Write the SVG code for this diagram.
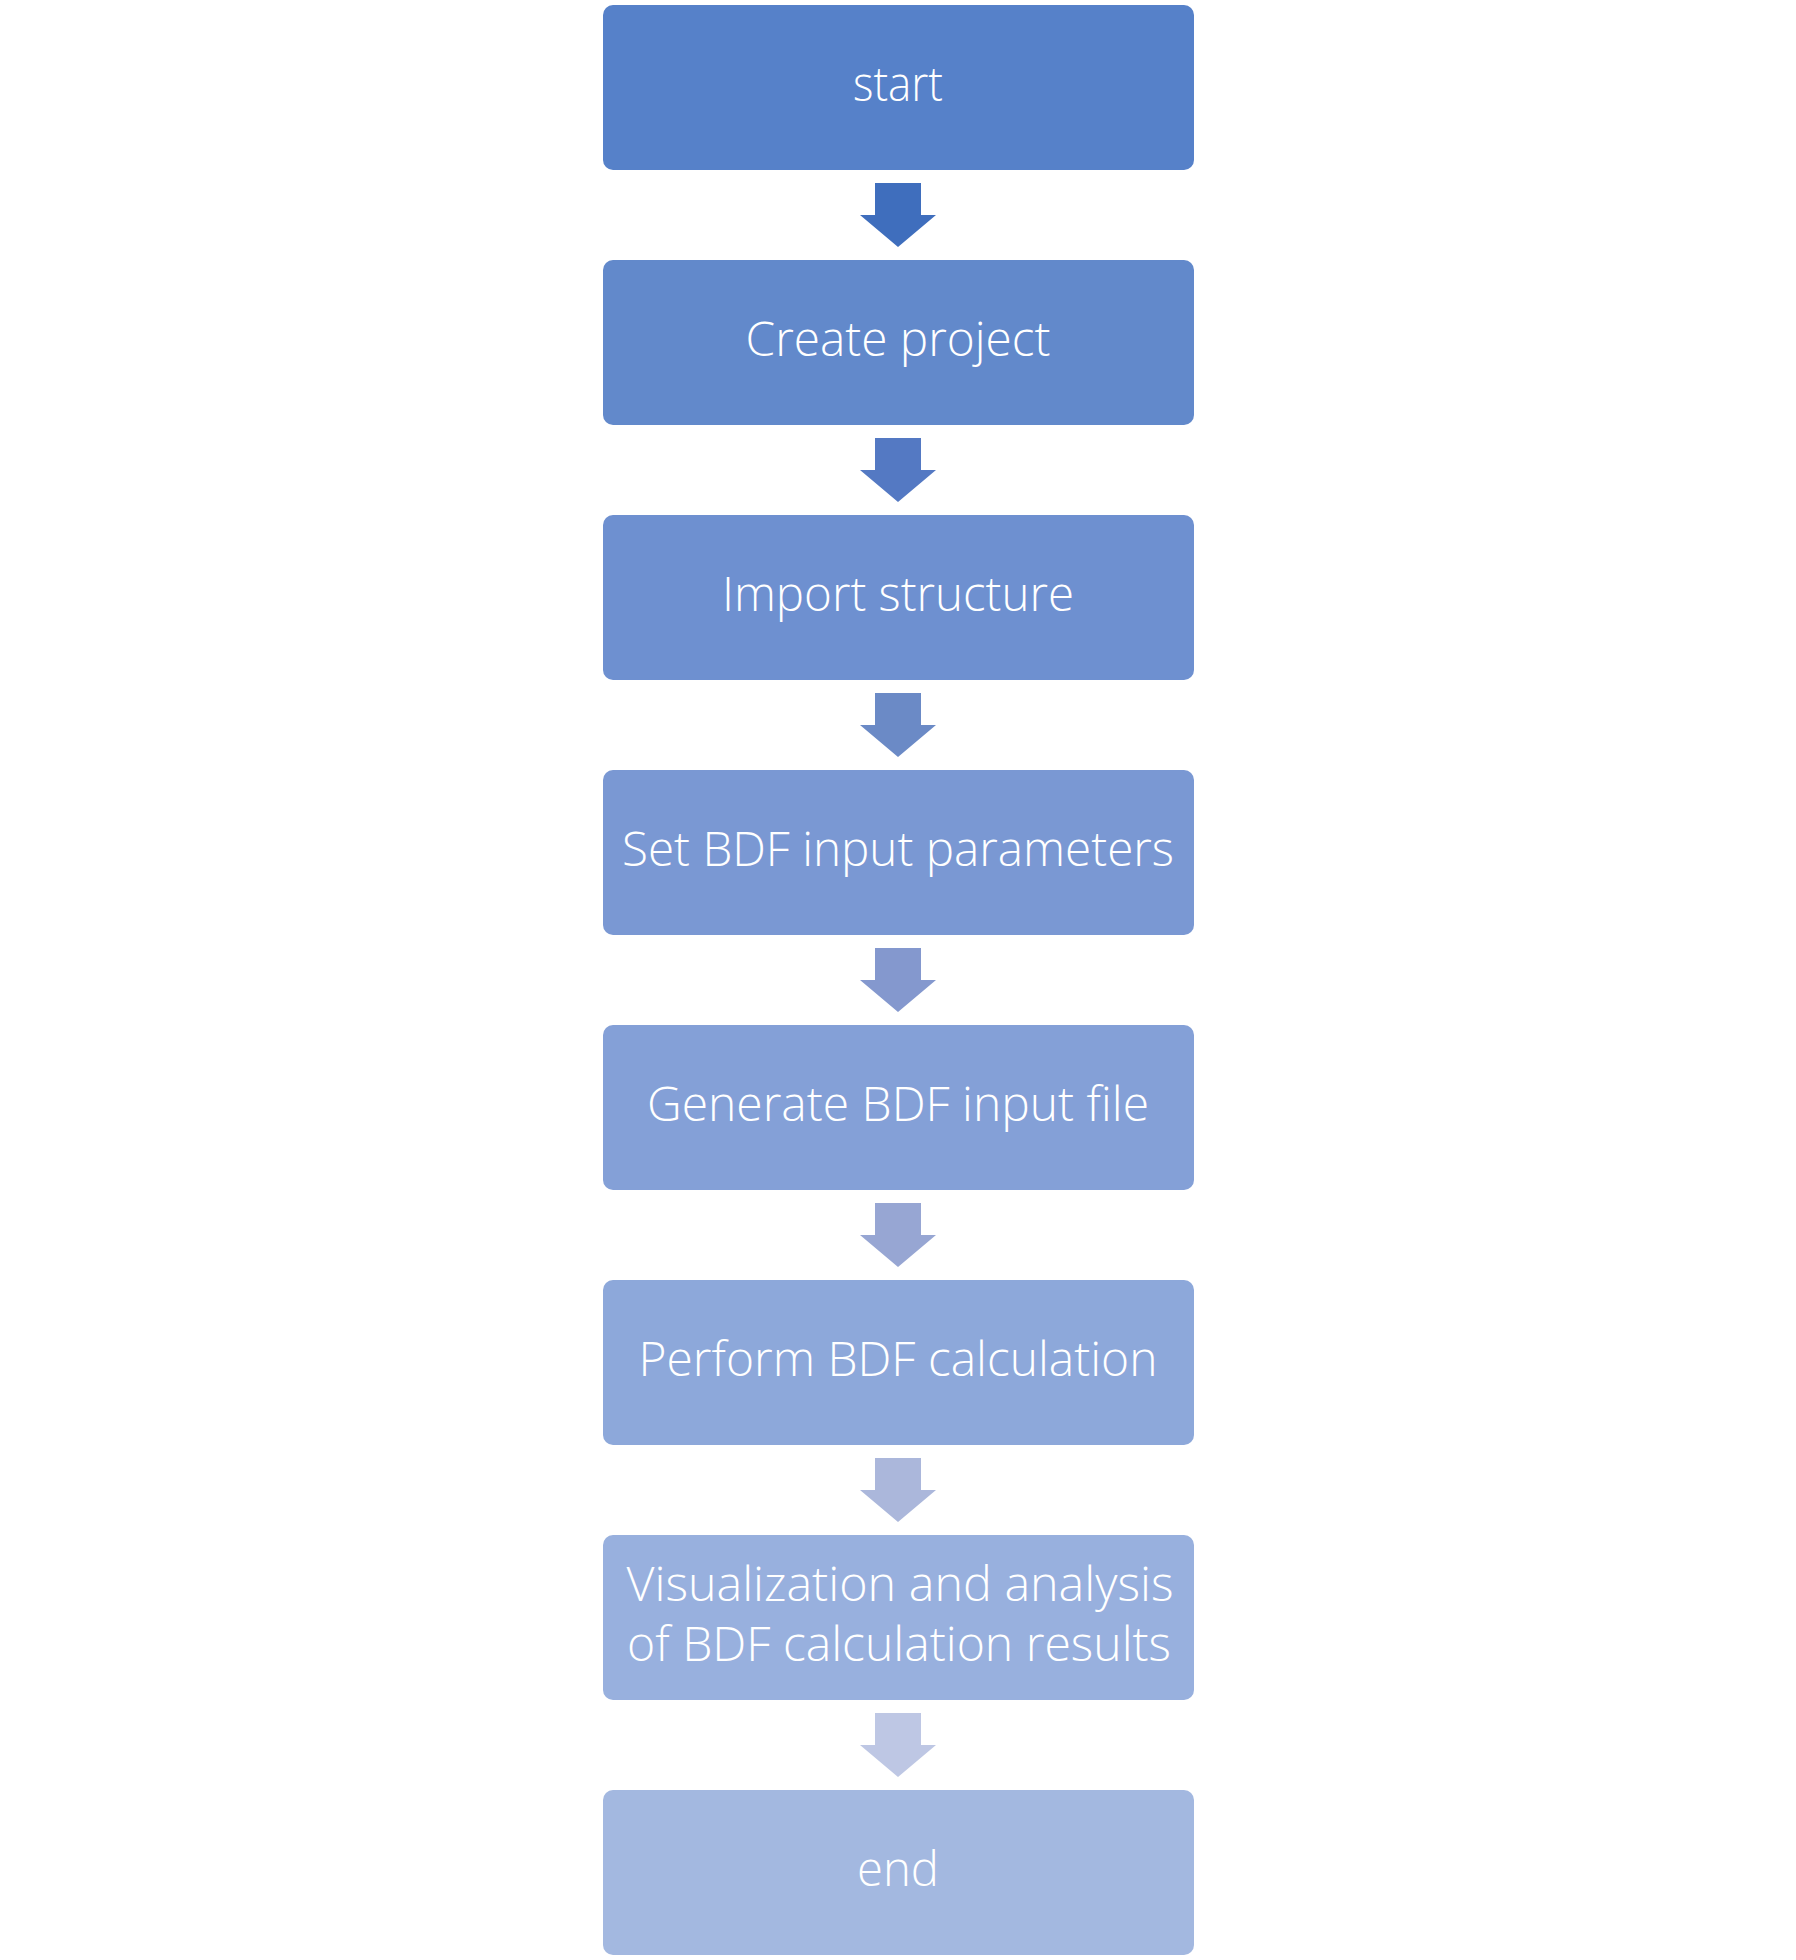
<svg xmlns="http://www.w3.org/2000/svg" width="1796" height="1960" viewBox="0 0 1796 1960">
<style>
.box{stroke:none}
.lbl{font-family:"Open Sans","Noto Sans","Liberation Sans",sans-serif;font-weight:300;font-size:47px;fill:#ffffff;text-anchor:middle}
</style>
<defs>
<path id="arr" d="M875,0 H921 V32 H936 L898,64 L860,32 H875 Z"/>
</defs>
<rect width="1796" height="1960" fill="#ffffff"/>
<g id="connectors">
<use href="#arr" y="183" fill="#3F6EBD"/>
<use href="#arr" y="438" fill="#5479C3"/>
<use href="#arr" y="693" fill="#6B8AC6"/>
<use href="#arr" y="948" fill="#8498CE"/>
<use href="#arr" y="1203" fill="#97A6D3"/>
<use href="#arr" y="1458" fill="#ABB7DB"/>
<use href="#arr" y="1713" fill="#BEC7E4"/>
</g>
<g id="n1"><rect class="box" x="603" y="5" width="591" height="165" rx="10" fill="#5681C9"/><text class="lbl" x="898" y="101" textLength="90" lengthAdjust="spacingAndGlyphs">start</text></g>
<g id="n2"><rect class="box" x="603" y="260" width="591" height="165" rx="10" fill="#6289CB"/><text class="lbl" x="898" y="356" textLength="305" lengthAdjust="spacingAndGlyphs">Create project</text></g>
<g id="n3"><rect class="box" x="603" y="515" width="591" height="165" rx="10" fill="#6E90D0"/><text class="lbl" x="898" y="611" textLength="352" lengthAdjust="spacingAndGlyphs">Import structure</text></g>
<g id="n4"><rect class="box" x="603" y="770" width="591" height="165" rx="10" fill="#7A98D3"/><text class="lbl" x="898" y="866" textLength="552" lengthAdjust="spacingAndGlyphs">Set BDF input parameters</text></g>
<g id="n5"><rect class="box" x="603" y="1025" width="591" height="165" rx="10" fill="#84A0D7"/><text class="lbl" x="898" y="1121" textLength="502" lengthAdjust="spacingAndGlyphs">Generate BDF input file</text></g>
<g id="n6"><rect class="box" x="603" y="1280" width="591" height="165" rx="10" fill="#8DA8DA"/><text class="lbl" x="898" y="1376" textLength="519" lengthAdjust="spacingAndGlyphs">Perform BDF calculation</text></g>
<g id="n7"><rect class="box" x="603" y="1535" width="591" height="165" rx="10" fill="#98B0DE"/><text class="lbl" x="900" y="1601" textLength="547" lengthAdjust="spacingAndGlyphs">Visualization and analysis</text><text class="lbl" x="899" y="1661" textLength="544" lengthAdjust="spacingAndGlyphs">of BDF calculation results</text></g>
<g id="n8"><rect class="box" x="603" y="1790" width="591" height="165" rx="10" fill="#A3B8E0"/><text class="lbl" x="898" y="1886" textLength="82" lengthAdjust="spacingAndGlyphs">end</text></g>
</svg>
